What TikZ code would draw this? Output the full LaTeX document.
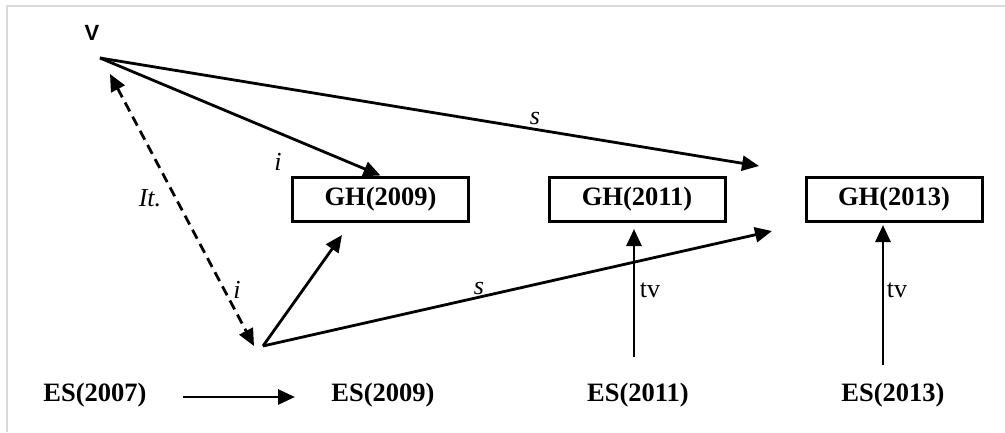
\documentclass[tikz,border=0pt]{standalone}
\usepackage{fontspec}
\setmainfont{Liberation Serif}
\setsansfont{Liberation Sans}
\usetikzlibrary{arrows.meta}
\begin{document}
\begin{tikzpicture}[x=1pt,y=-1pt,
  conn/.style={line width=2.8pt,-{Triangle[length=17pt,width=15pt]}},
  dashconn/.style={line width=2.8pt,dash pattern=on 10pt off 6pt,{Triangle[length=17pt,width=15pt]}-{Triangle[length=17pt,width=15pt]}},
  ghbox/.style={draw,line width=3pt,minimum width=176pt,minimum height=44pt,inner sep=0pt,font=\fontsize{26.5}{30}\selectfont\bfseries},
  estext/.style={inner sep=0pt,font=\fontsize{26.5}{30}\selectfont\bfseries},
  lab/.style={inner sep=0pt,font=\fontsize{26}{30}\selectfont\itshape},
  labu/.style={inner sep=0pt,font=\fontsize{26}{30}\selectfont},
  frameline/.style={draw=black!15,line width=2pt}]
\useasboundingbox (0,0) rectangle (1005,432);
\coordinate (fa) at (7,432);
\coordinate (fb) at (7,6);
\coordinate (fc) at (1005,6);
\draw[frameline] (fa) -- (fb) -- (fc);

\node[inner sep=0pt,font=\sffamily\bfseries\fontsize{22}{26}\selectfont] (V) at (92,33) {V};
\coordinate (O) at (100,58);
\coordinate (X) at (263,346);
\coordinate (D1) at (110,74);
\coordinate (D2) at (254,346);

\node[ghbox] (gh9) at (380.5,199) {GH(2009)};
\node[ghbox] (gh11) at (637,199) {GH(2011)};
\node[ghbox] (gh13) at (894,199) {GH(2013)};

\node[estext] (es7) at (95,395) {ES(2007)};
\node[estext] (es9) at (383,395) {ES(2009)};
\node[estext] (es11) at (638,395) {ES(2011)};
\node[estext] (es13) at (893,395) {ES(2013)};

\coordinate (e1) at (759,166);
\coordinate (e2) at (342,235);
\coordinate (e3) at (772,231);
\coordinate (s11) at (634,357);
\coordinate (t11) at (634,229);
\coordinate (s13) at (883,365);
\coordinate (t13) at (883,225);
\coordinate (a7) at (183,397);
\coordinate (b9) at (295,397);

\draw[conn] (O) -- (gh9.north);
\draw[conn] (O) -- (e1);
\draw[dashconn] (D1) -- (D2);
\draw[conn] (X) -- (e2);
\draw[conn] (X) -- (e3);
\draw[conn] (s11) -- (t11);
\draw[conn] (s13) -- (t13);
\draw[conn] (a7) -- (b9);

\node[lab] (li1) at (278,162) {i};
\node[lab] (ls1) at (535,118) {s};
\node[lab] (lit) at (150,198) {It.};
\node[lab] (li2) at (237,290) {i};
\node[lab] (ls2) at (479,288) {s};
\node[labu] (tv1) at (650,290) {tv};
\node[labu] (tv2) at (897,290) {tv};
\end{tikzpicture}
\end{document}
